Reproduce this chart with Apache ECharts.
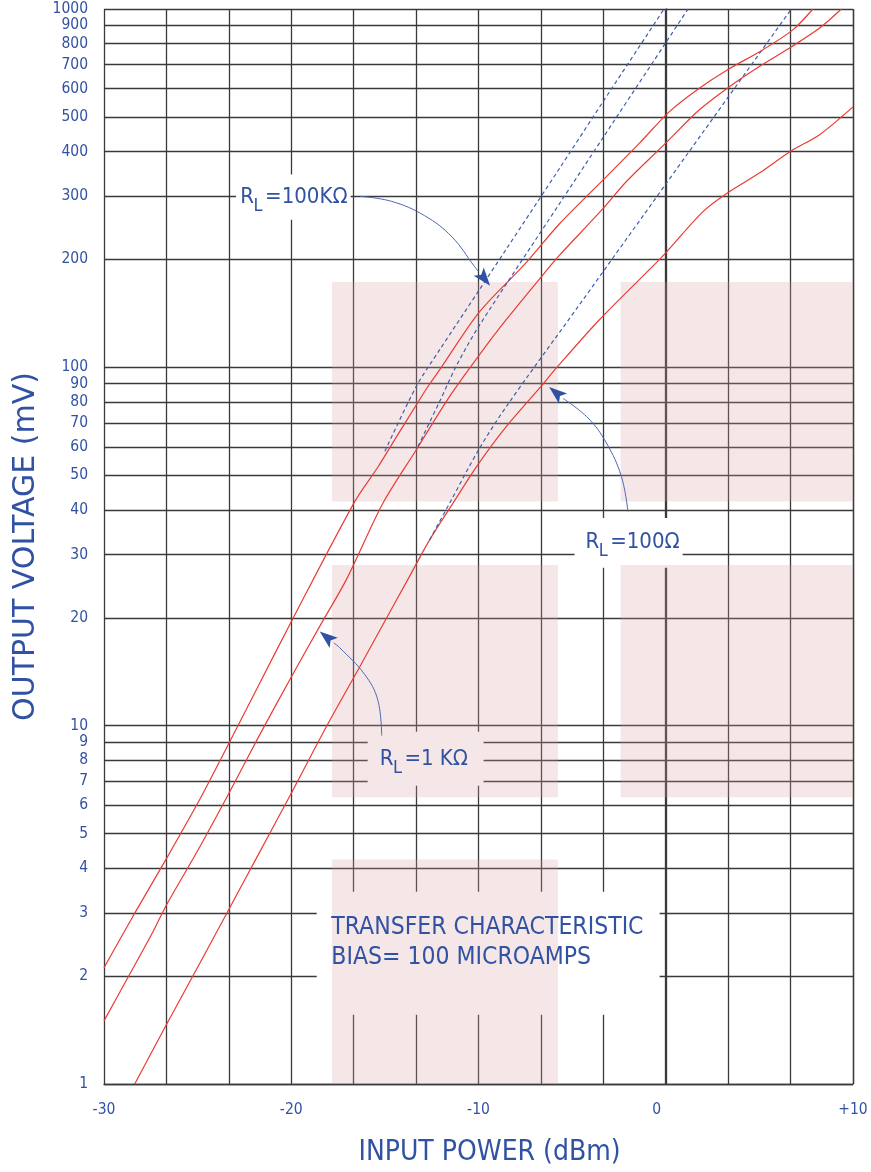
<!DOCTYPE html>
<html>
<head>
<meta charset="utf-8">
<script src="https://cdn.jsdelivr.net/npm/echarts@6/dist/echarts.min.js"></script>
<style>
html,body{margin:0;padding:0;background:#fff;}
#c{width:871px;height:1172px;}
</style>
</head>
<body>
<div id="c"></div>
<script>
// ---------- data ----------
const xLabelValues = [-30, -20, -10, 0, 10];
const yLabelValues = [1,2,3,4,5,6,7,8,9,10,20,30,40,50,60,70,80,90,100,200,300,400,500,600,700,800,900,1000];

const seriesNames = ['RL=100KΩ', 'RL=1KΩ', 'RL=100Ω'];

// measured transfer curves  [input dBm, output mV]
const rl100k = [[-30,2.11],[-28.45,2.94],[-26.65,4.27],[-24.89,6.22],[-23.32,8.95],[-21.68,13.15],[-20.0,19.5],[-16.61,42.2],[-15.37,52.7],[-14.30,65.0],[-13.35,78.1],[-12.70,88.4],[-12.07,98.5],[-9.94,143],[-7.53,194],[-5.66,252],[-3.33,334],[-1.39,423],[0.21,518],[1.81,602],[3.24,674],[5.19,770],[6.80,876],[7.86,1000]];
const rl1k = [[-30,1.50],[-28.8,1.95],[-27.37,2.67],[-26.65,3.17],[-25.07,4.41],[-23.32,6.49],[-21.68,9.44],[-19.99,13.7],[-18.39,19.3],[-17.05,25.6],[-15.10,41.8],[-13.32,58.9],[-11.54,83.0],[-10.03,107],[-8.51,136],[-6.09,194],[-5.66,206],[-3.33,278],[-2.10,330],[0.01,423],[1.81,524],[3.42,608],[5.02,692],[6.67,782],[8.22,885],[9.38,1000]];
const rl100 = [[-28.36,1.0],[-26.65,1.47],[-24.89,2.17],[-23.32,3.08],[-21.86,4.27],[-19.99,6.49],[-18.12,9.95],[-16.34,14.6],[-15.02,19.5],[-13.77,25.6],[-12.61,33.0],[-11.36,41.8],[-10.03,53.5],[-8.51,68.4],[-6.66,88.5],[-5.84,99.6],[-3.53,136],[-0.5,196],[0.01,209],[1.99,272],[3.35,308],[5.02,349],[6.67,401],[8.22,446],[10,533]];

// square-law extensions (dashed)
const sq100k = [[-15.0,58.3],[-13.32,88.5],[-12.07,112],[-9.94,165],[-8.51,214],[-5.66,360],[-3.33,553],[-0.09,1000]];
const sq1k = [[-13.23,60.2],[-12.07,80.4],[-11.18,101],[-9.99,130],[-5.66,287],[-3.33,439],[1.19,1000]];
const sq100 = [[-12.61,33.0],[-11.54,41.8],[-9.99,58.9],[-8.51,77.8],[-4.59,150],[0.01,325],[6.71,1000]];

// shaded background bands [x1, y1, x2, y2]
const shadeBands = [
  [-17.83, 42.2, -5.76, 173],
  [-2.41, 42.2, 10, 173],
  [-17.83, 6.31, -5.76, 28.1],
  [-2.41, 6.31, 10, 28.1],
  [-17.83, 1, -5.76, 4.23]
];
// white label backgrounds [x1, y1, x2, y2]
const labelBands = [
  [-22.95, 258, -16.83, 345],
  [-4.87, 27.6, 0.9, 38.0],
  [-15.92, 6.80, -9.73, 9.62],
  [-18.64, 1.56, -0.33, 3.44]
];
// curve labels: anchor [x, y], text
const curveLabels = [
  {at: [-22.72, 299], main: 'R', sub: 'L', rest: '=100KΩ'},
  {at: [-4.29, 32.4], main: 'R', sub: 'L', rest: '=100Ω'},
  {at: [-15.28, 8.06], main: 'R', sub: 'L', rest: '=1 KΩ'}
];
const noteAt = [-17.86, 2.735];
const noteLines = ['TRANSFER CHARACTERISTIC', 'BIAS= 100 MICROAMPS'];
// leader arrows (last point = tip)
const arrows = [
  [[-16.33,300],[-14.64,290.5],[-12.88,265],[-11.41,231],[-10.21,191],[-9.38,169]],
  [[-15.17,9.38],[-15.38,11.8],[-16.08,13.9],[-17.41,16.5],[-18.48,18.3]],
  [[-2.02,39.6],[-2.37,49.6],[-3.17,61.5],[-4.15,72.2],[-5.40,81.2],[-6.23,88.1]]
];

// ---------- styles ----------
const BLUE = '#3152a3';
const RED = '#ea3b34';
const DASH = '#3d5fae';
const GRID = '#3a3a3a';
const FAMC = '"DejaVu Sans Condensed","Liberation Sans Narrow","DejaVu Sans",sans-serif';
const FAM = '"DejaVu Sans",sans-serif';

const chart = echarts.init(document.getElementById('c'), null, {renderer: 'canvas'});

function redLine(name, data, extra) {
  return Object.assign({
    name, type: 'line', data, symbol: 'none', showSymbol: false,
    smooth: 0.3, z: 4, silent: true,
    lineStyle: {color: RED, width: 1.2}
  }, extra || {});
}
function dashLine(name, data) {
  return {
    name: name + ' (square law)', type: 'line', data, symbol: 'none', showSymbol: false,
    smooth: 0.3, z: 4, silent: true,
    lineStyle: {color: DASH, width: 1.2, type: [4, 3]}
  };
}
function bandsToArea(bands) {
  return bands.map(b => [{xAxis: b[0], yAxis: b[1]}, {xAxis: b[2], yAxis: b[3]}]);
}

const option = {
  animation: false,
  backgroundColor: '#fff',
  grid: {left: 104, right: 18, top: 9, bottom: 88},
  xAxis: {
    type: 'value', min: -30, max: 10, interval: 10 / 3,
    axisLine: {show: true, lineStyle: {color: GRID, width: 1.3}},
    axisTick: {show: false},
    splitLine: {show: true, lineStyle: {color: GRID, width: 1.3}},
    axisLabel: {
      color: BLUE, fontSize: 15.5, fontFamily: FAMC, margin: 18,
      formatter: v => {
        const r = Math.round(v);
        if (Math.abs(v - r) > 1e-6 || xLabelValues.indexOf(r) < 0) return '';
        if (r === 0) return '{z|0}';
        return r > 0 ? '+' + r : String(r);
      },
      rich: {z: {color: BLUE, fontSize: 15.5, fontFamily: FAMC, padding: [0, 18, 0, 0]}}
    },
    name: 'INPUT POWER (dBm)', nameLocation: 'middle', nameGap: 55,
    nameTextStyle: {color: BLUE, fontSize: 28, fontFamily: FAMC, padding: [0, 0, 0, 22]}
  },
  yAxis: {
    type: 'log', logBase: 10, min: 1, max: 1000,
    axisLine: {show: true, lineStyle: {color: GRID, width: 1.3}},
    axisTick: {show: false, customValues: yLabelValues},
    splitLine: {show: true, lineStyle: {color: GRID, width: 1.3}},
    axisLabel: {
      customValues: yLabelValues,
      color: BLUE, fontSize: 15.5, fontFamily: FAMC, margin: 16,
      formatter: v => String(Math.round(v))
    },
    name: 'OUTPUT VOLTAGE (mV)', nameLocation: 'middle', nameGap: 60, nameRotate: 90,
    nameTextStyle: {color: BLUE, fontSize: 30, fontFamily: FAM}
  },
  series: [
    redLine(seriesNames[0], rl100k, {
      markArea: {silent: true, z: 3, label: {show: false},
        itemStyle: {color: 'rgba(215,160,160,0.25)'}, data: bandsToArea(shadeBands)}
    }),
    redLine(seriesNames[1], rl1k, {
      markArea: {silent: true, z: 2, label: {show: false},
        itemStyle: {color: '#ffffff'}, data: bandsToArea(labelBands)}
    }),
    redLine(seriesNames[2], rl100),
    dashLine(seriesNames[0], sq100k),
    dashLine(seriesNames[1], sq1k),
    dashLine(seriesNames[2], sq100)
  ]
};
chart.setOption(option);

// ---------- annotations positioned from data coordinates ----------
const mctx = document.createElement('canvas').getContext('2d');
function tw(t, size, fam) { mctx.font = size + 'px ' + fam; return mctx.measureText(t).width; }
function toPx(p) { return chart.convertToPixel({gridIndex: 0}, p); }

const g = [];
arrows.forEach(path => {
  const pts = path.map(toPx);
  const tip = pts[pts.length - 1];
  const prev = pts[pts.length - 2];
  const dx = tip[0] - prev[0], dy = tip[1] - prev[1];
  const len = Math.hypot(dx, dy);
  const ux = dx / len, uy = dy / len;
  const L = 18, W = 6.5;
  const base = [tip[0] - ux * L, tip[1] - uy * L];
  let linePts = pts.slice(0, -1);
  if (len < L + 4) linePts = linePts.slice(0, -1);
  linePts.push(base);
  g.push({type: 'polyline', silent: true, z: 10,
    shape: {points: linePts, smooth: 0.4},
    style: {stroke: '#4d68b3', lineWidth: 1, fill: null}});
  g.push({type: 'polygon', silent: true, z: 10,
    shape: {points: [tip, [base[0] - uy * W, base[1] + ux * W], [tip[0] - ux * (L - 4), tip[1] - uy * (L - 4)], [base[0] + uy * W, base[1] - ux * W]]},
    style: {fill: BLUE}});
});

curveLabels.forEach(l => {
  const p = toPx(l.at);
  const fs = 22, fsSub = 18;
  const wR = tw(l.main, fs, FAMC);
  const wL = tw(l.sub, fsSub, FAMC);
  g.push({type: 'text', silent: true, z: 11, x: p[0], y: p[1],
    style: {text: l.main, fontSize: fs, fontFamily: FAMC, fill: BLUE, align: 'left', verticalAlign: 'middle'}});
  g.push({type: 'text', silent: true, z: 11, x: p[0] + wR - 0.5, y: p[1] + 9,
    style: {text: l.sub, fontSize: fsSub, fontFamily: FAMC, fill: BLUE, align: 'left', verticalAlign: 'middle'}});
  g.push({type: 'text', silent: true, z: 11, x: p[0] + wR + wL + 2, y: p[1],
    style: {text: l.rest, fontSize: fs, fontFamily: FAMC, fill: BLUE, align: 'left', verticalAlign: 'middle'}});
});

const np = toPx(noteAt);
noteLines.forEach((t, i) => {
  g.push({type: 'text', silent: true, z: 11, x: np[0], y: np[1] + i * 30.5,
    style: {text: t, fontSize: 24.5, fontFamily: FAMC, fill: BLUE, align: 'left', verticalAlign: 'middle'}});
});

chart.setOption({graphic: g});
</script>
</body>
</html>
